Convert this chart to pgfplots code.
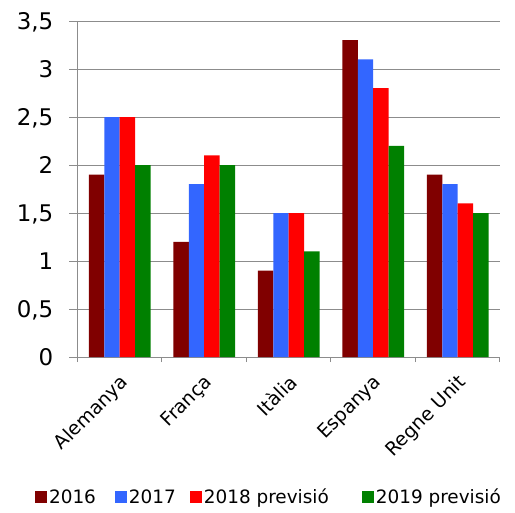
\documentclass[border=0pt]{standalone}
\usepackage{fontspec}
\setmainfont{DejaVu Sans}
\usepackage{pgfplots}
\pgfplotsset{compat=1.18}
\definecolor{c1}{HTML}{800000}
\definecolor{c2}{HTML}{3366FF}
\definecolor{c3}{HTML}{FF0000}
\definecolor{c4}{HTML}{008000}
\definecolor{gridgray}{HTML}{8C8C8C}
\begin{document}
\begin{tikzpicture}
\useasboundingbox (-77.5bp,-156bp) rectangle (437.5bp,357bp);
\begin{axis}[
  at={(0,0)}, anchor=south west,
  scale only axis, width=422.5bp, height=336bp,
  xmin=-0.5, xmax=4.5, ymin=0, ymax=3.5,
  ybar=0pt, bar width=15.4bp,
  axis x line*=bottom, axis y line*=left,
  axis line style={gridgray, line width=1bp},
  tick align=outside,
  major tick length=8bp,
  tick style={gridgray, line width=1bp},
  ymajorgrids, grid style={gridgray, line width=1bp},
  ytick={0,0.5,...,3.5},
  /pgf/number format/assume math mode=true,
  /pgf/number format/use comma,
  yticklabel style={font=\fontsize{23}{23}\selectfont, anchor=base east, inner sep=0pt, xshift=-16bp, yshift=-8.3bp},
  xtick={0,1,2,3,4},
  xticklabels={Alemanya, França, Itàlia, Espanya, Regne Unit},
  xtick style={draw=none},
  xticklabel style={font=\fontsize{19}{19}\selectfont, inner sep=0pt, xshift=-1bp, yshift=-8bp, rotate=45, anchor=north east},
  extra x ticks={-0.5,0.5,1.5,2.5,3.5,4.5},
  extra x tick labels={},
  extra x tick style={xtick style={draw=gridgray, line width=1bp}, major tick length=5bp},
  legend columns=4,
  legend style={draw=none, fill=none, at={(0.452,-0.4167)}, anchor=center,
    font=\fontsize{18.5}{18.5}\selectfont,
    nodes={inner sep=1bp},
    /tikz/every odd column/.append style={column sep=1bp},
    /tikz/every even column/.append style={column sep=13bp}},
  legend image code/.code={\path[#1, draw=none] (0bp,-6bp) rectangle (12bp,6bp);},
]
\addplot[fill=c1, draw=none] coordinates {(0,1.9) (1,1.2) (2,0.9) (3,3.3) (4,1.9)};
\addplot[fill=c2, draw=none] coordinates {(0,2.5) (1,1.8) (2,1.5) (3,3.1) (4,1.8)};
\addplot[fill=c3, draw=none] coordinates {(0,2.5) (1,2.1) (2,1.5) (3,2.8) (4,1.6)};
\addplot[fill=c4, draw=none] coordinates {(0,2.0) (1,2.0) (2,1.1) (3,2.2) (4,1.5)};
\legend{2016\hspace*{5bp}\null, 2017, 2018 previsió\hspace*{19bp}\null, 2019 previsió}
\end{axis}
\end{tikzpicture}
\end{document}
